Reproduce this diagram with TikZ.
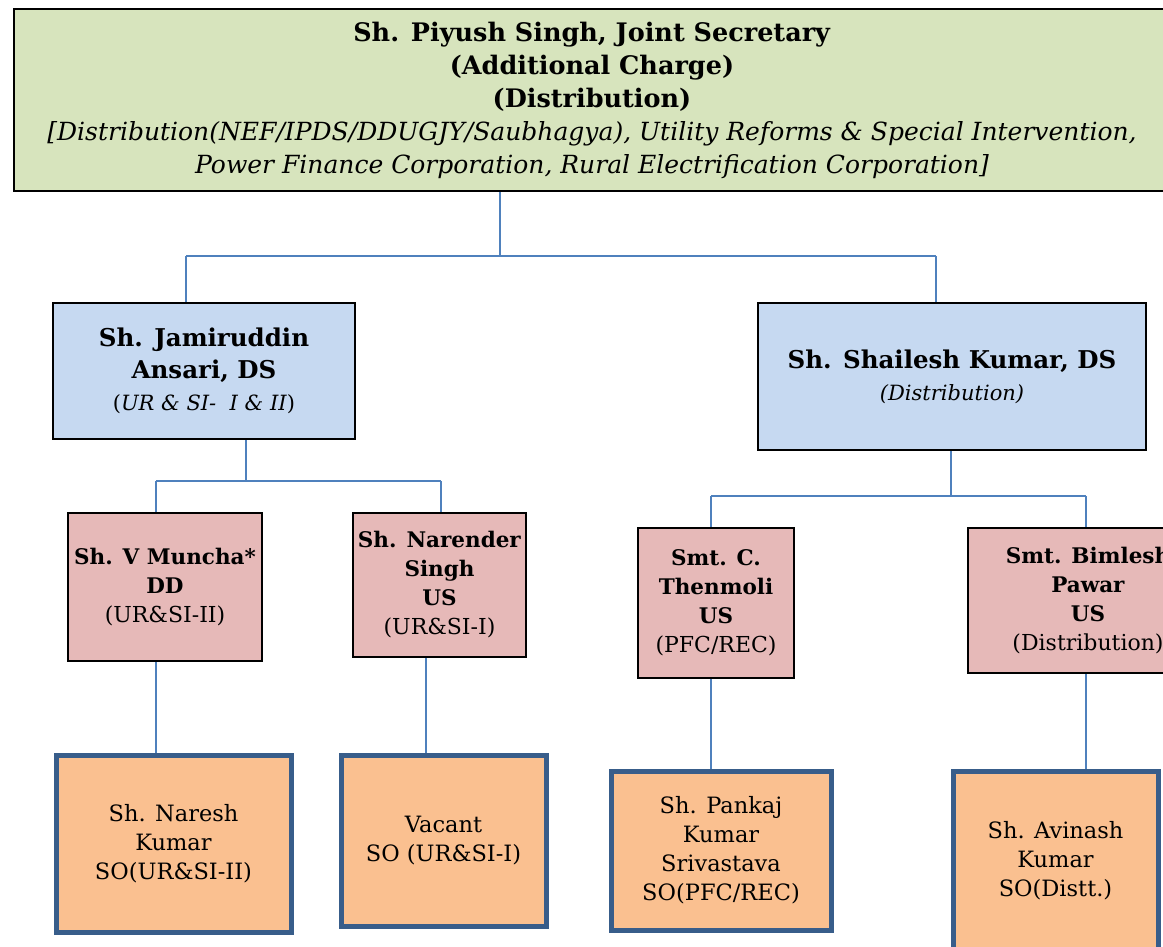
\documentclass[tikz,border=0pt]{standalone}
\usepackage{fontspec}
\setmainfont{DejaVu Serif}
\usetikzlibrary{positioning}

\definecolor{jsgreen}{HTML}{D7E4BD}
\definecolor{dsblue}{HTML}{C6D9F1}
\definecolor{uspink}{HTML}{E6B9B8}
\definecolor{soorange}{HTML}{FAC090}
\definecolor{soedge}{HTML}{385D8A}
\definecolor{linkblue}{HTML}{4F81BD}

\newcommand\dssub[1]{{\fontsize{21}{32}\selectfont #1}}
\newcommand\ussub[1]{{\fontsize{22}{29}\selectfont #1}}

\begin{document}
\begin{tikzpicture}[x=1pt,y=-1pt,
  box/.style={draw=black, line width=2pt, anchor=north west, align=center, inner sep=0pt},
  jsbox/.style={box, fill=jsgreen, font=\fontsize{25.5}{33}\selectfont},
  dsbox/.style={box, fill=dsblue, font=\fontsize{24.5}{32}\selectfont},
  usbox/.style={box, fill=uspink, font=\fontsize{21.5}{29}\selectfont},
  sobox/.style={draw=soedge, line width=5pt, fill=soorange, anchor=north west, align=center, inner sep=0pt, font=\fontsize{22.5}{29}\selectfont},
  link/.style={draw=linkblue, line width=1.8pt}]

\useasboundingbox (0,0) rectangle (1163,946);
\clip (0,0) rectangle (1163,946);

% Joint Secretary
\node[jsbox, minimum width=1156, minimum height=182] (js) at (13,8)
  {\textbf{Sh. Piyush Singh, Joint Secretary}\\\textbf{(Additional Charge)}\\\textbf{(Distribution)}\\
   {\fontsize{25}{33}\selectfont\itshape [Distribution(NEF/IPDS/DDUGJY/Saubhagya), Utility Reforms \& Special Intervention,}\\
   {\fontsize{25}{33}\selectfont\itshape Power Finance Corporation, Rural Electrification Corporation]}};

% Deputy Secretaries
\node[dsbox, minimum width=302, minimum height=136] (jamir) at (52,302)
  {\textbf{Sh. Jamiruddin}\\\textbf{Ansari, DS}\\\dssub{(\textit{UR \& SI-\ \ I \& II})}};
\node[dsbox, minimum width=388, minimum height=147] (shailesh) at (757,302)
  {\textbf{Sh. Shailesh Kumar, DS}\\\dssub{\textit{(Distribution)}}};

% Under Secretaries
\node[usbox, minimum width=194, minimum height=148] (muncha) at (67,512)
  {\textbf{Sh. V Muncha*}\\\textbf{DD}\\\ussub{(UR\&SI-II)}};
\node[usbox, minimum width=173, minimum height=144] (narender) at (352,512)
  {\textbf{Sh. Narender}\\\textbf{Singh}\\\textbf{US}\\\ussub{(UR\&SI-I)}};
\node[usbox, minimum width=156, minimum height=150] (thenmoli) at (637,527)
  {\textbf{Smt. C.}\\\textbf{Thenmoli}\\\textbf{US}\\\ussub{(PFC/REC)}};
\node[usbox, minimum width=240, minimum height=145] (bimlesh) at (967,527)
  {\textbf{Smt. Bimlesh}\\\textbf{Pawar}\\\textbf{US}\\\ussub{(Distribution)}};

% Section Officers
\node[sobox, minimum width=235, minimum height=177] (naresh) at (53.5,752.5)
  {Sh. Naresh\\Kumar\\SO(UR\&SI-II)};
\node[sobox, minimum width=205, minimum height=171] (vacant) at (338.5,752.5)
  {Vacant\\SO (UR\&SI-I)};
\node[sobox, minimum width=220, minimum height=159] (pankaj) at (608.5,768.5)
  {Sh. Pankaj\\Kumar\\Srivastava\\SO(PFC/REC)};
\node[sobox, minimum width=205, minimum height=180] (avinash) at (950.5,768.5)
  {Sh. Avinash\\Kumar\\SO(Distt.)};

% Top branch
\coordinate (topsplit) at (500,256);
\coordinate (topL) at (186,256);
\coordinate (topR) at (936,256);
\draw[link] (js.south -| topsplit) -- (topsplit);
\draw[link] (topL) -- (topR);
\draw[link] (topL) -- (topL |- jamir.north);
\draw[link] (topR) -- (topR |- shailesh.north);

% Left branch
\coordinate (leftsplit) at (246,481);
\coordinate (leftL) at (156,481);
\coordinate (leftR) at (441,481);
\draw[link] (jamir.south -| leftsplit) -- (leftsplit);
\draw[link] (leftL) -- (leftR);
\draw[link] (leftL) -- (leftL |- muncha.north);
\draw[link] (leftR) -- (leftR |- narender.north);

% Right branch
\coordinate (rightsplit) at (951,496);
\coordinate (rightL) at (711,496);
\coordinate (rightR) at (1086,496);
\draw[link] (shailesh.south -| rightsplit) -- (rightsplit);
\draw[link] (rightL) -- (rightR);
\draw[link] (rightL) -- (rightL |- thenmoli.north);
\draw[link] (rightR) -- (rightR |- bimlesh.north);

% Down to section officers
\coordinate (vacantdrop) at (426,700);
\draw[link] (leftL |- muncha.south) -- (leftL |- naresh.north);
\draw[link] (vacantdrop |- narender.south) -- (vacantdrop |- vacant.north);
\draw[link] (rightL |- thenmoli.south) -- (rightL |- pankaj.north);
\draw[link] (rightR |- bimlesh.south) -- (rightR |- avinash.north);

\end{tikzpicture}
\end{document}
